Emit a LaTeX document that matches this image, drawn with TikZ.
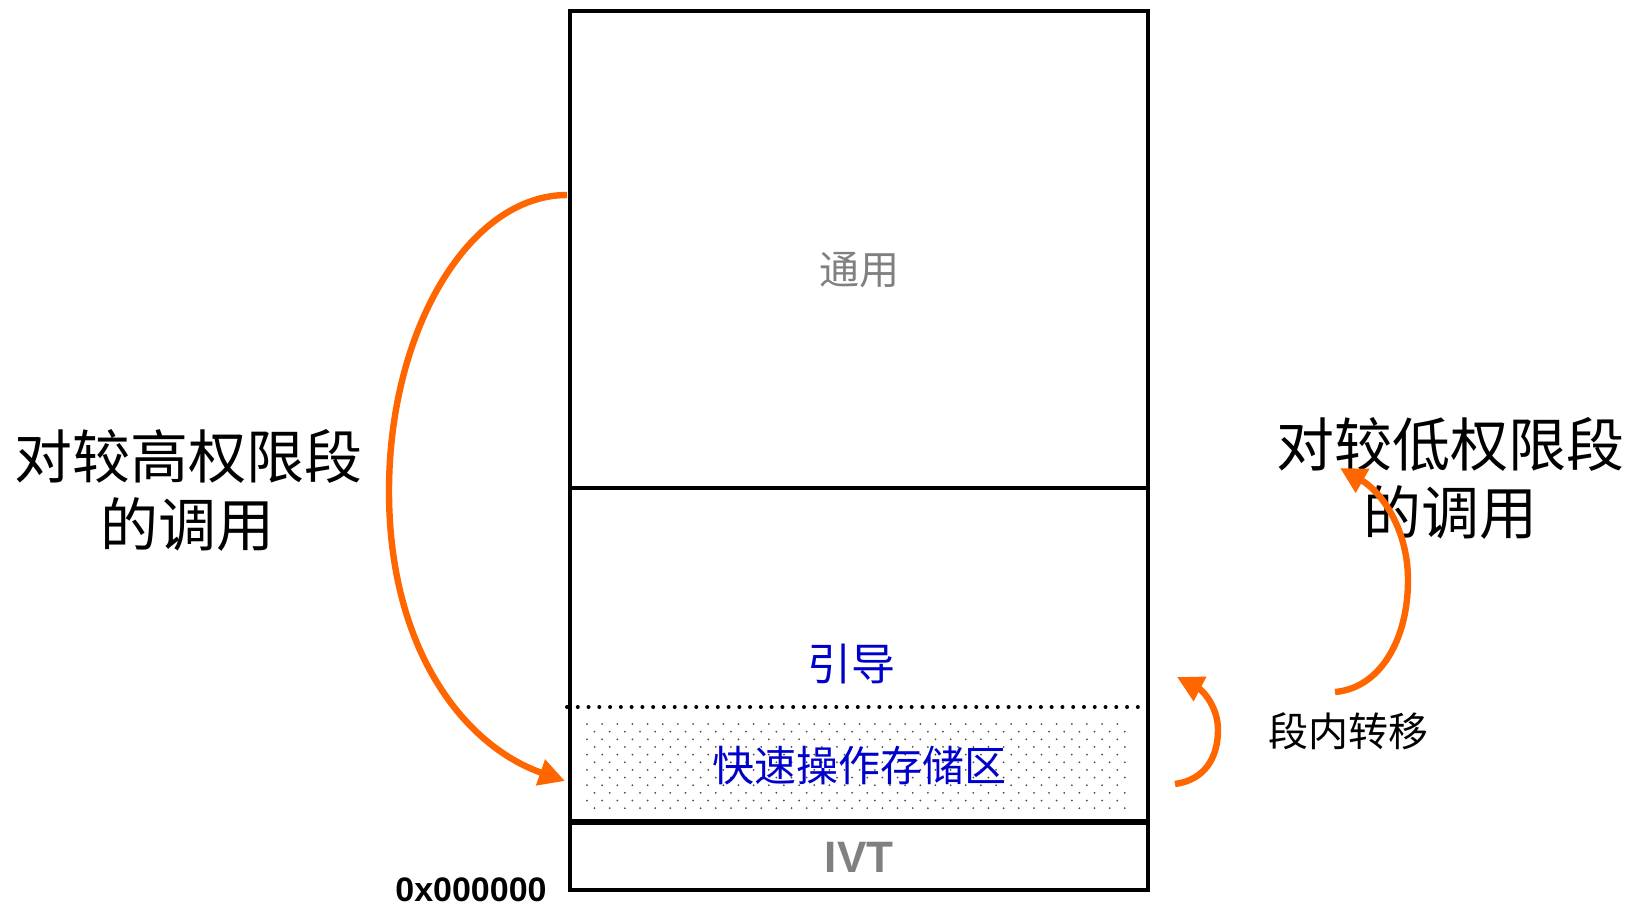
\documentclass[tikz,border=0pt]{standalone}
\usepackage{fontspec}
\setmainfont{Liberation Sans}
\newfontfamily\cjk{Noto Sans CJK SC}
\usetikzlibrary{arrows.meta}
\definecolor{arroworange}{RGB}{255,102,0}
\definecolor{textgray}{RGB}{128,128,128}
\definecolor{textblue}{RGB}{0,0,204}
\tikzset{
  boxline/.style={line width=2pt, black},
  callarrow/.style={line width=3.2pt, arroworange, -{Triangle[length=13pt,width=13pt]}},
  biglabel/.style={font=\cjk\fontsize{29pt}{34pt}\selectfont, align=center, inner sep=0pt},
  midlabel/.style={font=\cjk\fontsize{20pt}{24pt}\selectfont, inner sep=0pt},
}
\begin{document}
\begin{tikzpicture}[x=0.5pt,y=-0.5pt]
\useasboundingbox (0,0) rectangle (1638,906);
% stipple region
\foreach \r in {0,...,11}{
  \pgfmathsetmacro{\yy}{724+\r*7.65}
  \pgfmathsetmacro{\off}{mod(\r,2)*7.57}
  \foreach \c in {0,...,35}{
    \fill[black!70] ({587+\off+\c*15.15},\yy) circle (1);
  }
}
% dotted separator
\foreach \i in {0,...,53}{
  \fill[black] ({567+\i*10.77},707) circle (2);
}
% memory box
\draw[boxline] (570,11) rectangle (1148,890);
\draw[boxline, line width=1.8pt] (570,488) -- (1148,488);
\draw[boxline, line width=2.6pt] (570,822) -- (1148,822);
% texts
\node[midlabel, text=textgray] (general) at (859,270) {通用};
\node[font=\cjk\fontsize{22pt}{26pt}\selectfont, text=textblue, inner sep=0pt] (boot) at (851,664) {引导};
\node[font=\cjk\fontsize{21pt}{25pt}\selectfont, text=textblue, inner sep=0pt] (fast) at (859,766) {快速操作存储区};
\node[font=\bfseries\fontsize{22pt}{26pt}\selectfont, text=textgray, inner sep=0pt] (ivt) at (859,857) {IVT};
\node[font=\bfseries\fontsize{17pt}{20pt}\selectfont, inner sep=0pt] (addr) at (471,890) {0x000000};
\node[biglabel] (high) at (188,490) {对较高权限段\\的调用};
\node[biglabel] (low) at (1450,478) {对较低权限段\\的调用};
\node[midlabel] (intra) at (1348,731) {段内转移};
% arrow endpoints
\coordinate (hs) at (567,195);
\coordinate (he) at (565,781);
\coordinate (ss) at (1175,784);
\coordinate (se) at (1177,677);
\coordinate (ls) at (1335,692);
\coordinate (le) at (1340,468);
% arrows
\draw[callarrow] (hs) .. controls (469,195) and (389,330) .. (389,491)
  .. controls (389,651) and (465,746) .. (he);
\draw[callarrow] (ss) .. controls (1205,780) and (1218,757) .. (1218,730)
  .. controls (1218,706) and (1202,690) .. (se);
\draw[callarrow] (ls) .. controls (1380,688) and (1408,640) .. (1408,580)
  .. controls (1408,530) and (1382,492) .. (le);
\end{tikzpicture}
\end{document}
